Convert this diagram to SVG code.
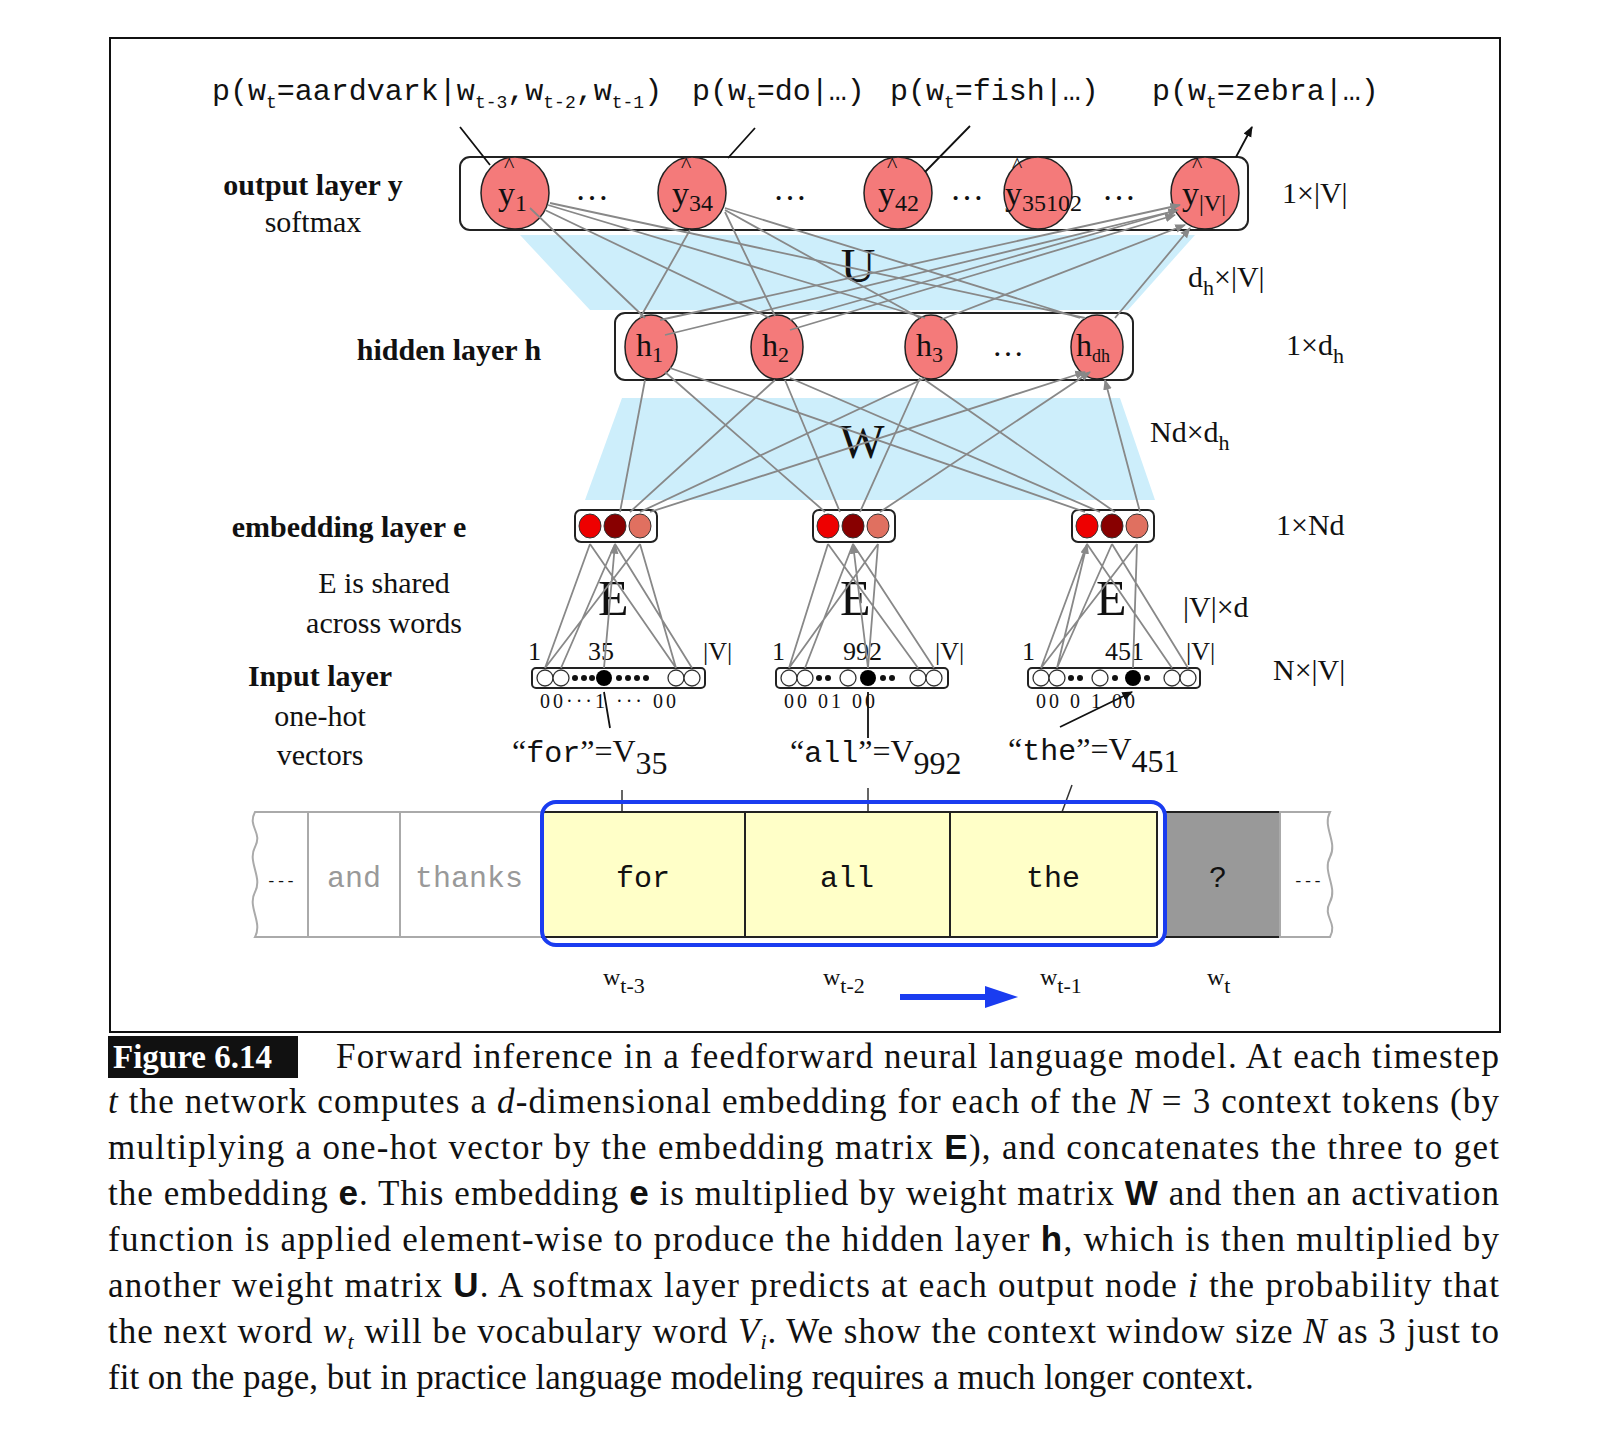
<svg xmlns="http://www.w3.org/2000/svg" width="1600" height="1439" viewBox="0 0 1600 1439">
<defs>
<style>
.s{font-family:"Liberation Serif",serif;fill:#111}
.m{font-family:"Liberation Mono",monospace;fill:#111}
.b{font-weight:bold}
.c{stroke:#888;stroke-width:1.8;fill:none;marker-end:url(#ga)}
.k{stroke:#111;stroke-width:1.8;fill:none;marker-end:url(#ka)}
.node{fill:#f47a7a;stroke:#222;stroke-width:1.5}
.box{fill:#fff;stroke:#222;stroke-width:2}
.oc{fill:#fff;stroke:#333;stroke-width:1.3}
.cap{font-family:"Liberation Serif",serif;font-size:35px;fill:#111}
.sb{font-family:"Liberation Sans",sans-serif;font-weight:bold}
</style>
<marker id="ga" viewBox="0 0 10 10" refX="9" refY="5" markerWidth="6" markerHeight="6" orient="auto"><path d="M0,1L10,5L0,9z" fill="#888"/></marker>
<marker id="ka" viewBox="0 0 10 10" refX="9" refY="5" markerWidth="6" markerHeight="6" orient="auto"><path d="M0,1L10,5L0,9z" fill="#111"/></marker>
</defs>
<rect width="1600" height="1439" fill="#fff"/>
<rect x="110" y="38" width="1390" height="994" fill="none" stroke="#111" stroke-width="2"/>

<g id="topLabels" class="m" font-size="30">
<text x="212" y="100">p(w<tspan font-size="18" dy="8">t</tspan><tspan dy="-8">=aardvark|w</tspan><tspan font-size="18" dy="8">t-3</tspan><tspan dy="-8">,w</tspan><tspan font-size="18" dy="8">t-2</tspan><tspan dy="-8">,w</tspan><tspan font-size="18" dy="8">t-1</tspan><tspan dy="-8">)</tspan></text>
<text x="692" y="100">p(w<tspan font-size="18" dy="8">t</tspan><tspan dy="-8">=do|…)</tspan></text>
<text x="890" y="100">p(w<tspan font-size="18" dy="8">t</tspan><tspan dy="-8">=fish|…)</tspan></text>
<text x="1152" y="100">p(w<tspan font-size="18" dy="8">t</tspan><tspan dy="-8">=zebra|…)</tspan></text>
</g>

<polygon points="520,235 1195,235 1128,310 590,310" fill="#cdeefb"/>
<polygon points="622,398 1120,398 1155,500 585,500" fill="#cdeefb"/>
<text x="858" y="282" class="s" font-size="48" text-anchor="middle" fill="#333">U</text>
<text x="862" y="458" class="s" font-size="48" text-anchor="middle" fill="#333">W</text>

<g id="outputLayer">
<rect class="box" x="460" y="157" width="788" height="73" rx="10"/>
<g class="s" font-size="34">
<ellipse class="node" cx="515" cy="193" rx="34" ry="36"/><text x="498" y="205">y<tspan font-size="24" dy="6">1</tspan></text>
<ellipse class="node" cx="692" cy="193" rx="34" ry="36"/><text x="672" y="205">y<tspan font-size="24" dy="6">34</tspan></text>
<ellipse class="node" cx="898" cy="193" rx="34" ry="36"/><text x="878" y="205">y<tspan font-size="24" dy="6">42</tspan></text>
<ellipse class="node" cx="1038" cy="193" rx="34" ry="36"/><text x="1005" y="205">y<tspan font-size="24" dy="6">35102</tspan></text>
<ellipse class="node" cx="1205" cy="193" rx="34" ry="36"/><text x="1182" y="205">y<tspan font-size="24" dy="6">|V|</tspan></text>
<g font-size="22"><text x="504" y="172">^</text><text x="681" y="172">^</text><text x="887" y="172">^</text><text x="1012" y="172">^</text><text x="1192" y="172">^</text></g>
<text x="575" y="200">…</text><text x="773" y="200">…</text><text x="950" y="200">…</text><text x="1102" y="200">…</text>
</g>
</g>

<g id="hiddenLayer">
<rect class="box" x="615" y="313" width="518" height="67" rx="10"/>
<g class="s" font-size="32">
<ellipse class="node" cx="651" cy="347" rx="26" ry="32"/><text x="636" y="356">h<tspan font-size="22" dy="6">1</tspan></text>
<ellipse class="node" cx="777" cy="347" rx="26" ry="32"/><text x="762" y="356">h<tspan font-size="22" dy="6">2</tspan></text>
<ellipse class="node" cx="931" cy="347" rx="26" ry="32"/><text x="916" y="356">h<tspan font-size="22" dy="6">3</tspan></text>
<ellipse class="node" cx="1097" cy="347" rx="26" ry="32"/><text x="1076" y="356">h<tspan font-size="18" dy="6">dh</tspan></text>
<text x="992" y="356">…</text>
</g>
</g>

<g id="embeddingLayer">
<g transform="translate(575,510)"><rect class="box" width="82" height="32" rx="6"/><ellipse cx="15" cy="16" rx="11" ry="12" fill="#e00" stroke="#333"/><ellipse cx="40" cy="16" rx="11" ry="12" fill="#800" stroke="#333"/><ellipse cx="65" cy="16" rx="11" ry="12" fill="#e07060" stroke="#333"/></g>
<g transform="translate(813,510)"><rect class="box" width="82" height="32" rx="6"/><ellipse cx="15" cy="16" rx="11" ry="12" fill="#e00" stroke="#333"/><ellipse cx="40" cy="16" rx="11" ry="12" fill="#800" stroke="#333"/><ellipse cx="65" cy="16" rx="11" ry="12" fill="#e07060" stroke="#333"/></g>
<g transform="translate(1072,510)"><rect class="box" width="82" height="32" rx="6"/><ellipse cx="15" cy="16" rx="11" ry="12" fill="#e00" stroke="#333"/><ellipse cx="40" cy="16" rx="11" ry="12" fill="#800" stroke="#333"/><ellipse cx="65" cy="16" rx="11" ry="12" fill="#e07060" stroke="#333"/></g>
</g>

<g id="inputLayer" class="s" font-size="26">
<g transform="translate(532,668)"><rect class="box" width="173" height="20" rx="4"/><circle class="oc" cx="13" cy="10" r="8"/><circle class="oc" cx="29" cy="10" r="8"/><circle cx="43" cy="10" r="3"/><circle cx="52" cy="10" r="3"/><circle cx="60" cy="10" r="3"/><circle cx="72" cy="10" r="8" fill="#000"/><circle cx="87" cy="10" r="3"/><circle cx="96" cy="10" r="3"/><circle cx="105" cy="10" r="3"/><circle cx="114" cy="10" r="3"/><circle class="oc" cx="144" cy="10" r="8"/><circle class="oc" cx="160" cy="10" r="8"/></g>
<g transform="translate(776,668)"><rect class="box" width="172" height="20" rx="4"/><circle class="oc" cx="13" cy="10" r="8"/><circle class="oc" cx="29" cy="10" r="8"/><circle cx="43" cy="10" r="3"/><circle cx="52" cy="10" r="3"/><circle class="oc" cx="72" cy="10" r="8"/><circle cx="92" cy="10" r="8" fill="#000"/><circle cx="107" cy="10" r="3"/><circle cx="116" cy="10" r="3"/><circle class="oc" cx="142" cy="10" r="8"/><circle class="oc" cx="158" cy="10" r="8"/></g>
<g transform="translate(1028,668)"><rect class="box" width="172" height="20" rx="4"/><circle class="oc" cx="13" cy="10" r="8"/><circle class="oc" cx="29" cy="10" r="8"/><circle cx="43" cy="10" r="3"/><circle cx="52" cy="10" r="3"/><circle class="oc" cx="72" cy="10" r="8"/><circle cx="87" cy="10" r="3"/><circle cx="105" cy="10" r="8" fill="#000"/><circle cx="119" cy="10" r="3"/><circle class="oc" cx="144" cy="10" r="8"/><circle class="oc" cx="160" cy="10" r="8"/></g>
<text x="528" y="660">1</text><text x="588" y="660">35</text><text x="703" y="660">|V|</text>
<text x="772" y="660">1</text><text x="843" y="660">992</text><text x="935" y="660">|V|</text>
<text x="1022" y="660">1</text><text x="1105" y="660">451</text><text x="1186" y="660">|V|</text>
<g font-size="20" letter-spacing="3"><text x="540" y="708">00···1 ··· 00</text><text x="784" y="708">00    01    00</text><text x="1036" y="708">00    0 1   00</text></g>
<g font-size="50"><text x="598" y="615">E</text><text x="840" y="615">E</text><text x="1096" y="615">E</text></g>
<g font-size="32"><text x="512" y="762">“<tspan class="m" font-size="30">for</tspan>”=V<tspan dy="12">35</tspan></text>
<text x="790" y="762">“<tspan class="m" font-size="30">all</tspan>”=V<tspan dy="12">992</tspan></text>
<text x="1008" y="760">“<tspan class="m" font-size="30">the</tspan>”=V<tspan dy="12">451</tspan></text></g>
</g>

<g id="sideLabels" class="s" font-size="30">
<text x="313" y="195" text-anchor="middle" class="b">output layer y</text>
<text x="313" y="232" text-anchor="middle">softmax</text>
<text x="449" y="360" text-anchor="middle" class="b">hidden layer h</text>
<text x="349" y="537" text-anchor="middle" class="b">embedding layer e</text>
<text x="384" y="593" text-anchor="middle">E is shared</text>
<text x="384" y="633" text-anchor="middle">across words</text>
<text x="320" y="686" text-anchor="middle" class="b">Input layer</text>
<text x="320" y="726" text-anchor="middle">one-hot</text>
<text x="320" y="765" text-anchor="middle">vectors</text>
<text x="1282" y="203">1×|V|</text>
<text x="1188" y="287">d<tspan font-size="22" dy="8">h</tspan><tspan dy="-8">×|V|</tspan></text>
<text x="1286" y="355">1×d<tspan font-size="22" dy="8">h</tspan></text>
<text x="1150" y="442">Nd×d<tspan font-size="22" dy="8">h</tspan></text>
<text x="1276" y="535">1×Nd</text>
<text x="1183" y="617">|V|×d</text>
<text x="1273" y="680">N×|V|</text>
</g>

<g id="connectors">
<path class="k" d="M490,165L460,127M728,158L755,128M925,172L970,126M1236,157L1252,127"/>
<g>
<path class="c" d="M645,318L530,208M640,318L690,230M660,320L1180,205"/>
<path class="c" d="M770,318L545,210M775,316L725,212M790,320L1178,210"/>
<path class="c" d="M925,318L548,205M920,318L725,210M940,320L1185,225"/>
<path class="c" d="M1085,318L550,203M1080,318L725,208M1115,318L1190,228"/>
<path class="c" d="M665,335L1170,212M790,330L1175,215"/>
</g>
<g>
<path class="c" d="M620,512L645,380M630,512L775,380M640,512L925,378M650,512L1085,372"/>
<path class="c" d="M825,512L665,372M840,512L785,380M860,512L920,378M880,512L1090,372"/>
<path class="c" d="M1085,512L670,368M1100,512L790,378M1115,512L925,380M1140,512L1105,380"/>
</g>
<g>
<path class="c" d="M545,668L590,544M561,668L615,544M545,668L640,544M676,668L590,544M692,668L615,544M676,668L640,544M604,668L615,544"/>
<path class="c" d="M789,668L828,544M805,668L853,544M789,668L878,544M918,668L828,544M934,668L853,544M868,668L878,544M868,668L853,544"/>
<path class="c" d="M1041,668L1087,544M1057,668L1112,544M1041,668L1137,544M1172,668L1087,544M1188,668L1112,544M1133,668L1137,544M1057,668L1087,544"/>
</g>
<path class="k" d="M610,728L604,692M868,738L868,692M1060,727L1132,692"/>
<path d="M622,790V812M868,788V812M1072,785L1062,812" stroke="#333" stroke-width="1.5"/>
</g>

<g id="tape">
<path d="M255,812H308V937H255c8,-15 -8,-30 0,-45c8,-15 -8,-30 0,-45c8,-15 -8,-20 0,-35z" fill="#fff" stroke="#aaa" stroke-width="2"/>
<rect x="308" y="812" width="92" height="125" fill="#fff" stroke="#aaa" stroke-width="2"/>
<rect x="400" y="812" width="142" height="125" fill="#fff" stroke="#aaa" stroke-width="2"/>
<rect x="542" y="812" width="615" height="125" fill="#ffffc8" stroke="#222" stroke-width="2"/>
<path d="M745,812V937M950,812V937" stroke="#222" stroke-width="2"/>
<rect x="1165" y="812" width="115" height="125" fill="#999" stroke="#222" stroke-width="2"/>
<path d="M1280,812H1330c-8,15 8,30 0,45c-8,15 8,30 0,45c-8,15 8,20 0,35H1280z" fill="#fff" stroke="#aaa" stroke-width="2"/>
<rect x="542" y="802" width="623" height="143" rx="14" fill="none" stroke="#1a3cf0" stroke-width="4"/>
<g class="m" font-size="30" text-anchor="middle">
<text x="281" y="886" font-size="16">---</text>
<text x="354" y="887" fill="#999">and</text>
<text x="469" y="887" fill="#999">thanks</text>
<text x="643" y="887">for</text><text x="847" y="887">all</text><text x="1053" y="887">the</text>
<text x="1218" y="887">?</text>
<text x="1308" y="886" font-size="16">---</text>
</g>
<g class="s" font-size="24">
<text x="603" y="985">w<tspan font-size="22" dy="8">t-3</tspan></text>
<text x="823" y="985">w<tspan font-size="22" dy="8">t-2</tspan></text>
<text x="1040" y="985">w<tspan font-size="22" dy="8">t-1</tspan></text>
<text x="1207" y="985">w<tspan font-size="22" dy="8">t</tspan></text>
</g>
<path d="M900,997H990" stroke="#1a3cf0" stroke-width="6"/>
<path d="M985,986L1018,997L985,1008z" fill="#1a3cf0"/>
</g>

<g id="caption" class="cap">
<rect x="108" y="1036" width="190" height="42" fill="#111"/>
<text x="113" y="1068" fill="#fff" font-weight="bold" font-size="33">Figure 6.14</text>
<text x="336" y="1068" textLength="1163" lengthAdjust="spacing">Forward inference in a feedforward neural language model.  At each timestep</text>
<text x="108" y="1113" textLength="1391" lengthAdjust="spacing"><tspan font-style="italic">t</tspan> the network computes a <tspan font-style="italic">d</tspan>-dimensional embedding for each of the <tspan font-style="italic">N</tspan> = 3 context tokens (by</text>
<text x="108" y="1159" textLength="1391" lengthAdjust="spacing">multiplying a one-hot vector by the embedding matrix <tspan class="sb">E</tspan>), and concatenates the three to get</text>
<text x="108" y="1205" textLength="1391" lengthAdjust="spacing">the embedding <tspan class="sb">e</tspan>. This embedding <tspan class="sb">e</tspan> is multiplied by weight matrix <tspan class="sb">W</tspan> and then an activation</text>
<text x="108" y="1251" textLength="1391" lengthAdjust="spacing">function is applied element-wise to produce the hidden layer <tspan class="sb">h</tspan>, which is then multiplied by</text>
<text x="108" y="1297" textLength="1391" lengthAdjust="spacing">another weight matrix <tspan class="sb">U</tspan>. A softmax layer predicts at each output node <tspan font-style="italic">i</tspan> the probability that</text>
<text x="108" y="1343" textLength="1391" lengthAdjust="spacing">the next word <tspan font-style="italic">w</tspan><tspan font-style="italic" font-size="22" dy="6">t</tspan><tspan dy="-6"> will be vocabulary word </tspan><tspan font-style="italic">V</tspan><tspan font-style="italic" font-size="22" dy="6">i</tspan><tspan dy="-6">. We show the context window size </tspan><tspan font-style="italic">N</tspan> as 3 just to</text>
<text x="108" y="1389">fit on the page, but in practice language modeling requires a much longer context.</text>
</g>
</svg>
